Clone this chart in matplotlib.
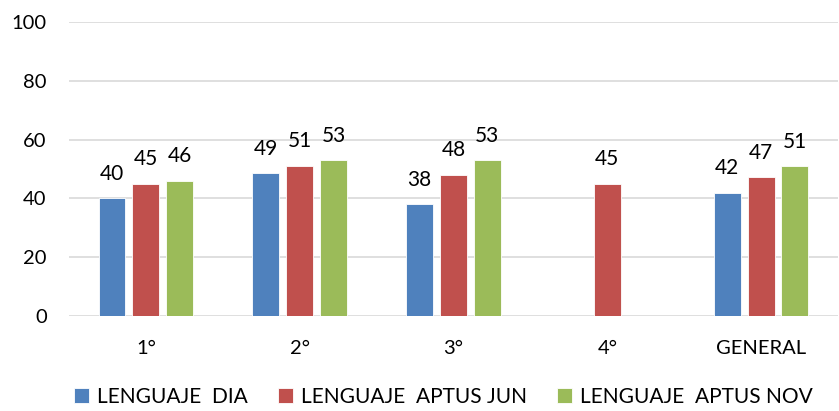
import matplotlib
matplotlib.use("Agg")
import matplotlib.pyplot as plt
import numpy as np

categories = ["1°", "2°", "3°", "4°", "GENERAL"]
series_names = ["LENGUAJE  DIA", "LENGUAJE  APTUS JUN", "LENGUAJE  APTUS NOV"]
dia = [40, 48.6, 38, np.nan, 41.9]
jun = [45, 51, 48, 45, 47.2]
nov = [46, 53, 53, np.nan, 50.9]
colors = ["#4F81BD", "#C0504D", "#9BBB59"]

plt.rcParams['font.family'] = ['Lato', 'DejaVu Sans']

fig = plt.figure(figsize=(8.39, 4.11), dpi=100)
ax = fig.add_axes([0.0822, 0.2311, 0.9166, 0.7154])

x = np.arange(len(categories))
w = 0.175
step = 0.22
for i, (vals, name, c) in enumerate(zip([dia, jun, nov], series_names, colors)):
    pos = x + (i - 1) * step
    bars = ax.bar(pos, vals, width=w, color=c, label=name, zorder=3,
                  edgecolor='white', linewidth=0.6)
    for xp, v in zip(pos, vals):
        if not np.isnan(v):
            ax.annotate(f"{v:.0f}", (xp, v), xytext=(0, 10.5), textcoords='offset points',
                        ha='center', va='bottom', fontsize=15, color='#000000')

ax.set_xlim(-0.5, len(categories) - 0.5)
ax.set_ylim(0, 100)
ax.set_yticks([0, 20, 40, 60, 80, 100])
ax.set_xticks(x)
ax.set_xticklabels(categories)
ax.tick_params(axis='both', length=0, labelsize=14.5, colors='#000000')
ax.tick_params(axis='y', pad=16)
ax.tick_params(axis='x', pad=17.5)
ax.grid(axis='y', color='#D9D9D9', linewidth=1.2, zorder=0)
for s in ax.spines.values():
    s.set_visible(False)

fig.legend(loc='lower left', bbox_to_anchor=(0.066, -0.035), ncol=3, frameon=False,
           fontsize=15, handlelength=0.7, handleheight=0.7, handletextpad=0.4,
           columnspacing=1.45)

fig.savefig("out.png", dpi=100)
